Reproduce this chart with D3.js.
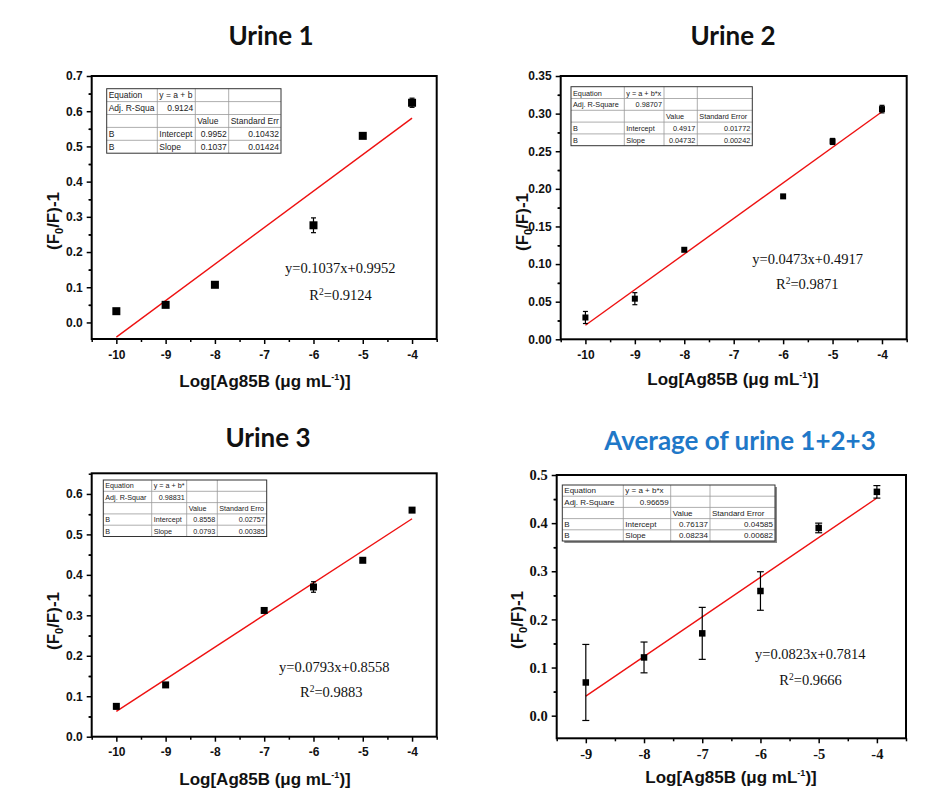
<!DOCTYPE html>
<html><head><meta charset="utf-8">
<script src="https://cdn.jsdelivr.net/npm/d3@7"></script>
<style>body{margin:0;background:#fff}svg{display:block}</style>
</head><body><svg id="c" width="937" height="803"></svg>
<script>
// ---------- data ----------
const titles = ["Urine 1", "Urine 2", "Urine 3", "Average of urine 1+2+3"];

const xU1 = [-10, -9, -8, -6, -5, -4];
const yU1 = [0.032, 0.050, 0.107, 0.276, 0.530, 0.624];
const eU1 = [0, 0, 0, 0.021, 0, 0.013];

const xU2 = [-10, -9, -8, -6, -5, -4];
const yU2 = [0.029, 0.054, 0.119, 0.190, 0.263, 0.306];
const eU2 = [0.008, 0.008, 0, 0, 0.004, 0.005];

const xU3 = [-10, -9, -7, -6, -5, -4];
const yU3 = [0.075, 0.128, 0.312, 0.370, 0.436, 0.560];
const eU3 = [0.006, 0, 0, 0.013, 0, 0];

const xAvg = [-9, -8, -7, -6, -5, -4];
const yAvg = [0.069, 0.121, 0.171, 0.259, 0.390, 0.465];
const eAvg = [0.079, 0.032, 0.054, 0.040, 0.010, 0.013];

const slopes = [0.1037, 0.0473, 0.0793, 0.0823];
const intercepts = [0.9952, 0.4917, 0.8558, 0.7814];
const eqTexts = ["y=0.1037x+0.9952", "y=0.0473x+0.4917", "y=0.0793x+0.8558", "y=0.0823x+0.7814"];
const r2Texts = ["0.9124", "0.9871", "0.9883", "0.9666"];

const yTicks1 = [0, 0.1, 0.2, 0.3, 0.4, 0.5, 0.6, 0.7];
const yTicks2 = [0, 0.05, 0.10, 0.15, 0.20, 0.25, 0.30, 0.35];
const yTicks3 = [0, 0.1, 0.2, 0.3, 0.4, 0.5, 0.6];
const yTicks4 = [0, 0.1, 0.2, 0.3, 0.4, 0.5];
const xTicksA = [-10, -9, -8, -7, -6, -5, -4];
const xTicksB = [-9, -8, -7, -6, -5, -4];

const table1 = [["Equation", "y = a + b", "", ""], ["Adj. R-Squa", "0.9124", "", ""], ["", "", "Value", "Standard Err"], ["B", "Intercept", "0.9952", "0.10432"], ["B", "Slope", "0.1037", "0.01424"]];
const table2 = [["Equation", "y = a + b*x", "", ""], ["Adj. R-Square", "0.98707", "", ""], ["", "", "Value", "Standard Error"], ["B", "Intercept", "0.4917", "0.01772"], ["B", "Slope", "0.04732", "0.00242"]];
const table3 = [["Equation", "y = a + b*", "", ""], ["Adj. R-Squar", "0.98831", "", ""], ["", "", "Value", "Standard Erro"], ["B", "Intercept", "0.8558", "0.02757"], ["B", "Slope", "0.0793", "0.00385"]];
const table4 = [["Equation", "y = a + b*x", "", ""], ["Adj. R-Square", "0.96659", "", ""], ["", "", "Value", "Standard Error"], ["B", "Intercept", "0.76137", "0.04585"], ["B", "Slope", "0.08234", "0.00682"]];

// ---------- layout ----------
const panels = [
  {xs: xU1, ys: yU1, es: eU1, yTicks: yTicks1, xTicks: xTicksA, xDom: [-10.5, -3.5], yDom: [-0.047, 0.7], fmt: ".1f", minorY: 0.05,
   L: 91.7, R: 436.7, T: 76, B: 339, ms: 8, cap: 5, table: table1,
   tb: {x: 106.7, y: 88.7, cols: [50.6, 38, 33.4, 52.3], rh: 12.9, fs: 8.5},
   eq: [285, 273.3], r2: [309.3, 300], title: [271, 45], ylab: [59, 221], xlab: [265, 387]},
  {xs: xU2, ys: yU2, es: eU2, yTicks: yTicks2, xTicks: xTicksA, xDom: [-10.5, -3.5], yDom: [0, 0.35], fmt: ".2f", minorY: 0.025,
   L: 560.7, R: 906.7, T: 76, B: 339.3, ms: 6, cap: 5, table: table2,
   tb: {x: 571, y: 86.7, cols: [53.3, 39.7, 33.3, 55], rh: 11.8, fs: 7.3},
   eq: [752.3, 264], r2: [776, 288.7], title: [733, 45], ylab: [528, 222], xlab: [733, 385]},
  {xs: xU3, ys: yU3, es: eU3, yTicks: yTicks3, xTicks: xTicksA, xDom: [-10.5, -3.5], yDom: [0, 0.651], fmt: ".1f", minorY: 0.05,
   L: 91.7, R: 436.7, T: 473.3, B: 736.7, ms: 7, cap: 5, table: table3,
   tb: {x: 103.3, y: 480, cols: [48.4, 35, 30.6, 49.4], rh: 11.3, fs: 7.2},
   eq: [279, 672], r2: [300, 697.3], title: [268, 447], ylab: [59, 621], xlab: [265, 785]},
  {xs: xAvg, ys: yAvg, es: eAvg, yTicks: yTicks4, xTicks: xTicksB, xDom: [-9.5, -3.5], yDom: [-0.047, 0.5], fmt: ".1f", minorY: 0.05,
   L: 556.7, R: 906, T: 475, B: 738.3, ms: 6.5, cap: 7, table: table4, serifTicks: true,
   tb: {x: 562.3, y: 485, cols: [61, 47.4, 39.3, 65], rh: 11.2, fs: 8, shadow: true},
   eq: [755, 659.3], r2: [779.3, 685.3], title: [740, 450], ylab: [523, 620], xlab: [731, 783], blue: true}
];

const svg = d3.select("#c");
svg.append("rect").attr("width", 937).attr("height", 803).attr("fill", "#fff");

panels.forEach((p, i) => {
  const g = svg.append("g");
  const x = d3.scaleLinear().domain(p.xDom).range([p.L, p.R]);
  const y = d3.scaleLinear().domain(p.yDom).range([p.B, p.T]);
  const tickFont = p.serifTicks ? "'Liberation Serif','Times New Roman',serif" : "'Liberation Sans',Arial,sans-serif";
  const tickSize = p.serifTicks ? 14.5 : 12;

  // title
  g.append("text").attr("x", p.title[0]).attr("y", p.title[1]).attr("text-anchor", "middle")
    .attr("font-family", "Lato, 'Open Sans', sans-serif").attr("font-weight", "bold").attr("font-size", 26)
    .attr("fill", p.blue ? "#1f78c8" : "#111").text(titles[i]);

  // minor x ticks
  const minorX = d3.range(Math.ceil(p.xDom[0] * 2) / 2, p.xDom[1] + 0.001, 0.5).filter(v => !Number.isInteger(v));
  g.append("g").attr("transform", `translate(0,${p.B})`)
    .call(d3.axisBottom(x).tickValues(minorX).tickSize(3).tickFormat(""))
    .call(a => a.select(".domain").remove())
    .call(a => a.selectAll("line").attr("stroke", "#000").attr("stroke-width", 1.5));
  // major x ticks
  g.append("g").attr("transform", `translate(0,${p.B})`)
    .call(d3.axisBottom(x).tickValues(p.xTicks).tickSize(5).tickPadding(p.serifTicks ? 5 : 6).tickFormat(d3.format("d")))
    .call(a => a.select(".domain").remove())
    .call(a => a.selectAll("line").attr("stroke", "#000").attr("stroke-width", 1.5))
    .call(a => a.selectAll("text").attr("font-family", tickFont).attr("font-weight", "bold").attr("font-size", tickSize).attr("fill", "#111").text(d => d3.format("d")(d).replace("\u2212", "-")));

  // minor y ticks
  const minorYv = p.yTicks.map(v => v + p.minorY).filter(v => v < p.yDom[1] - 1e-6)
    .concat(p.yTicks.map(v => v - p.minorY).filter(v => v > p.yDom[0]));
  g.append("g").attr("transform", `translate(${p.L},0)`)
    .call(d3.axisLeft(y).tickValues(minorYv).tickSize(3).tickFormat(""))
    .call(a => a.select(".domain").remove())
    .call(a => a.selectAll("line").attr("stroke", "#000").attr("stroke-width", 1.5));
  g.append("g").attr("transform", `translate(${p.L},0)`)
    .call(d3.axisLeft(y).tickValues(p.yTicks).tickSize(5).tickPadding(4).tickFormat(d3.format(p.fmt)))
    .call(a => a.select(".domain").remove())
    .call(a => a.selectAll("line").attr("stroke", "#000").attr("stroke-width", 1.5))
    .call(a => a.selectAll("text").attr("font-family", tickFont).attr("font-weight", "bold").attr("font-size", tickSize).attr("fill", "#111"));

  // frame
  g.append("rect").attr("x", x(p.xDom[0])).attr("y", y(p.yDom[1]))
    .attr("width", x(p.xDom[1]) - x(p.xDom[0])).attr("height", y(p.yDom[0]) - y(p.yDom[1]))
    .attr("fill", "none").attr("stroke", "#000").attr("stroke-width", 2);

  // table
  const t = p.tb;
  const tg = g.append("g").attr("font-family", "'Liberation Sans',Arial,sans-serif").attr("font-size", t.fs).attr("fill", "#222");
  const colX = [t.x];
  t.cols.forEach(w => colX.push(colX[colX.length - 1] + w));
  const tw = colX[4] - t.x, th = t.rh * 5;
  if (t.shadow) {
    tg.append("rect").attr("x", t.x + 2).attr("y", t.y + 2).attr("width", tw).attr("height", th).attr("fill", "#888");
  }
  tg.append("rect").attr("x", t.x).attr("y", t.y).attr("width", tw).attr("height", th).attr("fill", "#fff");
  for (let r = 1; r < 5; r++) tg.append("line").attr("x1", t.x).attr("x2", t.x + tw).attr("y1", t.y + r * t.rh).attr("y2", t.y + r * t.rh).attr("stroke", "#999").attr("stroke-width", 0.8);
  for (let c = 1; c < 4; c++) tg.append("line").attr("x1", colX[c]).attr("x2", colX[c]).attr("y1", t.y).attr("y2", t.y + th).attr("stroke", "#999").attr("stroke-width", 0.8);
  tg.append("rect").attr("x", t.x).attr("y", t.y).attr("width", tw).attr("height", th).attr("fill", "none").attr("stroke", "#333").attr("stroke-width", 1);
  p.table.forEach((row, r) => {
    row.forEach((cell, c) => {
      if (!cell) return;
      const right = /^[0-9.]+$/.test(cell);
      tg.append("text")
        .attr("x", right ? colX[c + 1] - 2 : colX[c] + 2)
        .attr("y", t.y + (r + 1) * t.rh - t.rh * 0.25)
        .attr("text-anchor", right ? "end" : "start").text(cell);
    });
  });

  // fit line
  const fx = [d3.min(p.xs), d3.max(p.xs)];
  g.append("line").attr("x1", x(fx[0])).attr("y1", y(slopes[i] * fx[0] + intercepts[i]))
    .attr("x2", x(fx[1])).attr("y2", y(slopes[i] * fx[1] + intercepts[i]))
    .attr("stroke", "#ee1111").attr("stroke-width", 1.4);

  // error bars
  const pts = p.xs.map((v, k) => ({x: v, y: p.ys[k], e: p.es[k]}));
  const eb = g.append("g").attr("stroke", "#000").attr("stroke-width", 1.2);
  pts.filter(d => d.e > 0).forEach(d => {
    eb.append("line").attr("x1", x(d.x)).attr("x2", x(d.x)).attr("y1", y(d.y - d.e)).attr("y2", y(d.y + d.e));
    [d.y - d.e, d.y + d.e].forEach(v => eb.append("line").attr("x1", x(d.x) - p.cap / 2).attr("x2", x(d.x) + p.cap / 2).attr("y1", y(v)).attr("y2", y(v)));
  });
  // markers
  g.append("g").selectAll("rect").data(pts).join("rect")
    .attr("x", d => x(d.x) - p.ms / 2).attr("y", d => y(d.y) - p.ms / 2)
    .attr("width", p.ms).attr("height", p.ms).attr("fill", "#000");

  // equation text
  const ef = "'Liberation Serif','Times New Roman',serif";
  g.append("text").attr("x", p.eq[0]).attr("y", p.eq[1]).attr("font-family", ef).attr("font-size", 14.5).attr("fill", "#111").text(eqTexts[i]);
  const rt = g.append("text").attr("x", p.r2[0]).attr("y", p.r2[1]).attr("font-family", ef).attr("font-size", 14.5).attr("fill", "#111");
  rt.append("tspan").text("R");
  rt.append("tspan").attr("dy", -5).attr("font-size", 9.5).text("2");
  rt.append("tspan").attr("dy", 5).text("=" + r2Texts[i]);

  // axis labels
  const lf = "'Liberation Sans',Arial,sans-serif";
  const xl = g.append("text").attr("x", p.xlab[0]).attr("y", p.xlab[1]).attr("text-anchor", "middle")
    .attr("font-family", lf).attr("font-weight", "bold").attr("font-size", 17).attr("fill", "#111");
  xl.append("tspan").text("Log[Ag85B (\u03BCg mL");
  xl.append("tspan").attr("dy", -7).attr("font-size", 9).text("-1");
  xl.append("tspan").attr("dy", 7).text(")]");

  const yl = g.append("text").attr("transform", `translate(${p.ylab[0]},${p.ylab[1]}) rotate(-90)`).attr("text-anchor", "middle")
    .attr("font-family", lf).attr("font-weight", "bold").attr("font-size", 17).attr("fill", "#111");
  yl.append("tspan").text("(F");
  yl.append("tspan").attr("dy", 4).attr("font-size", 11).text("0");
  yl.append("tspan").attr("dy", -4).text("/F)-1");
});
</script>
</body></html>
